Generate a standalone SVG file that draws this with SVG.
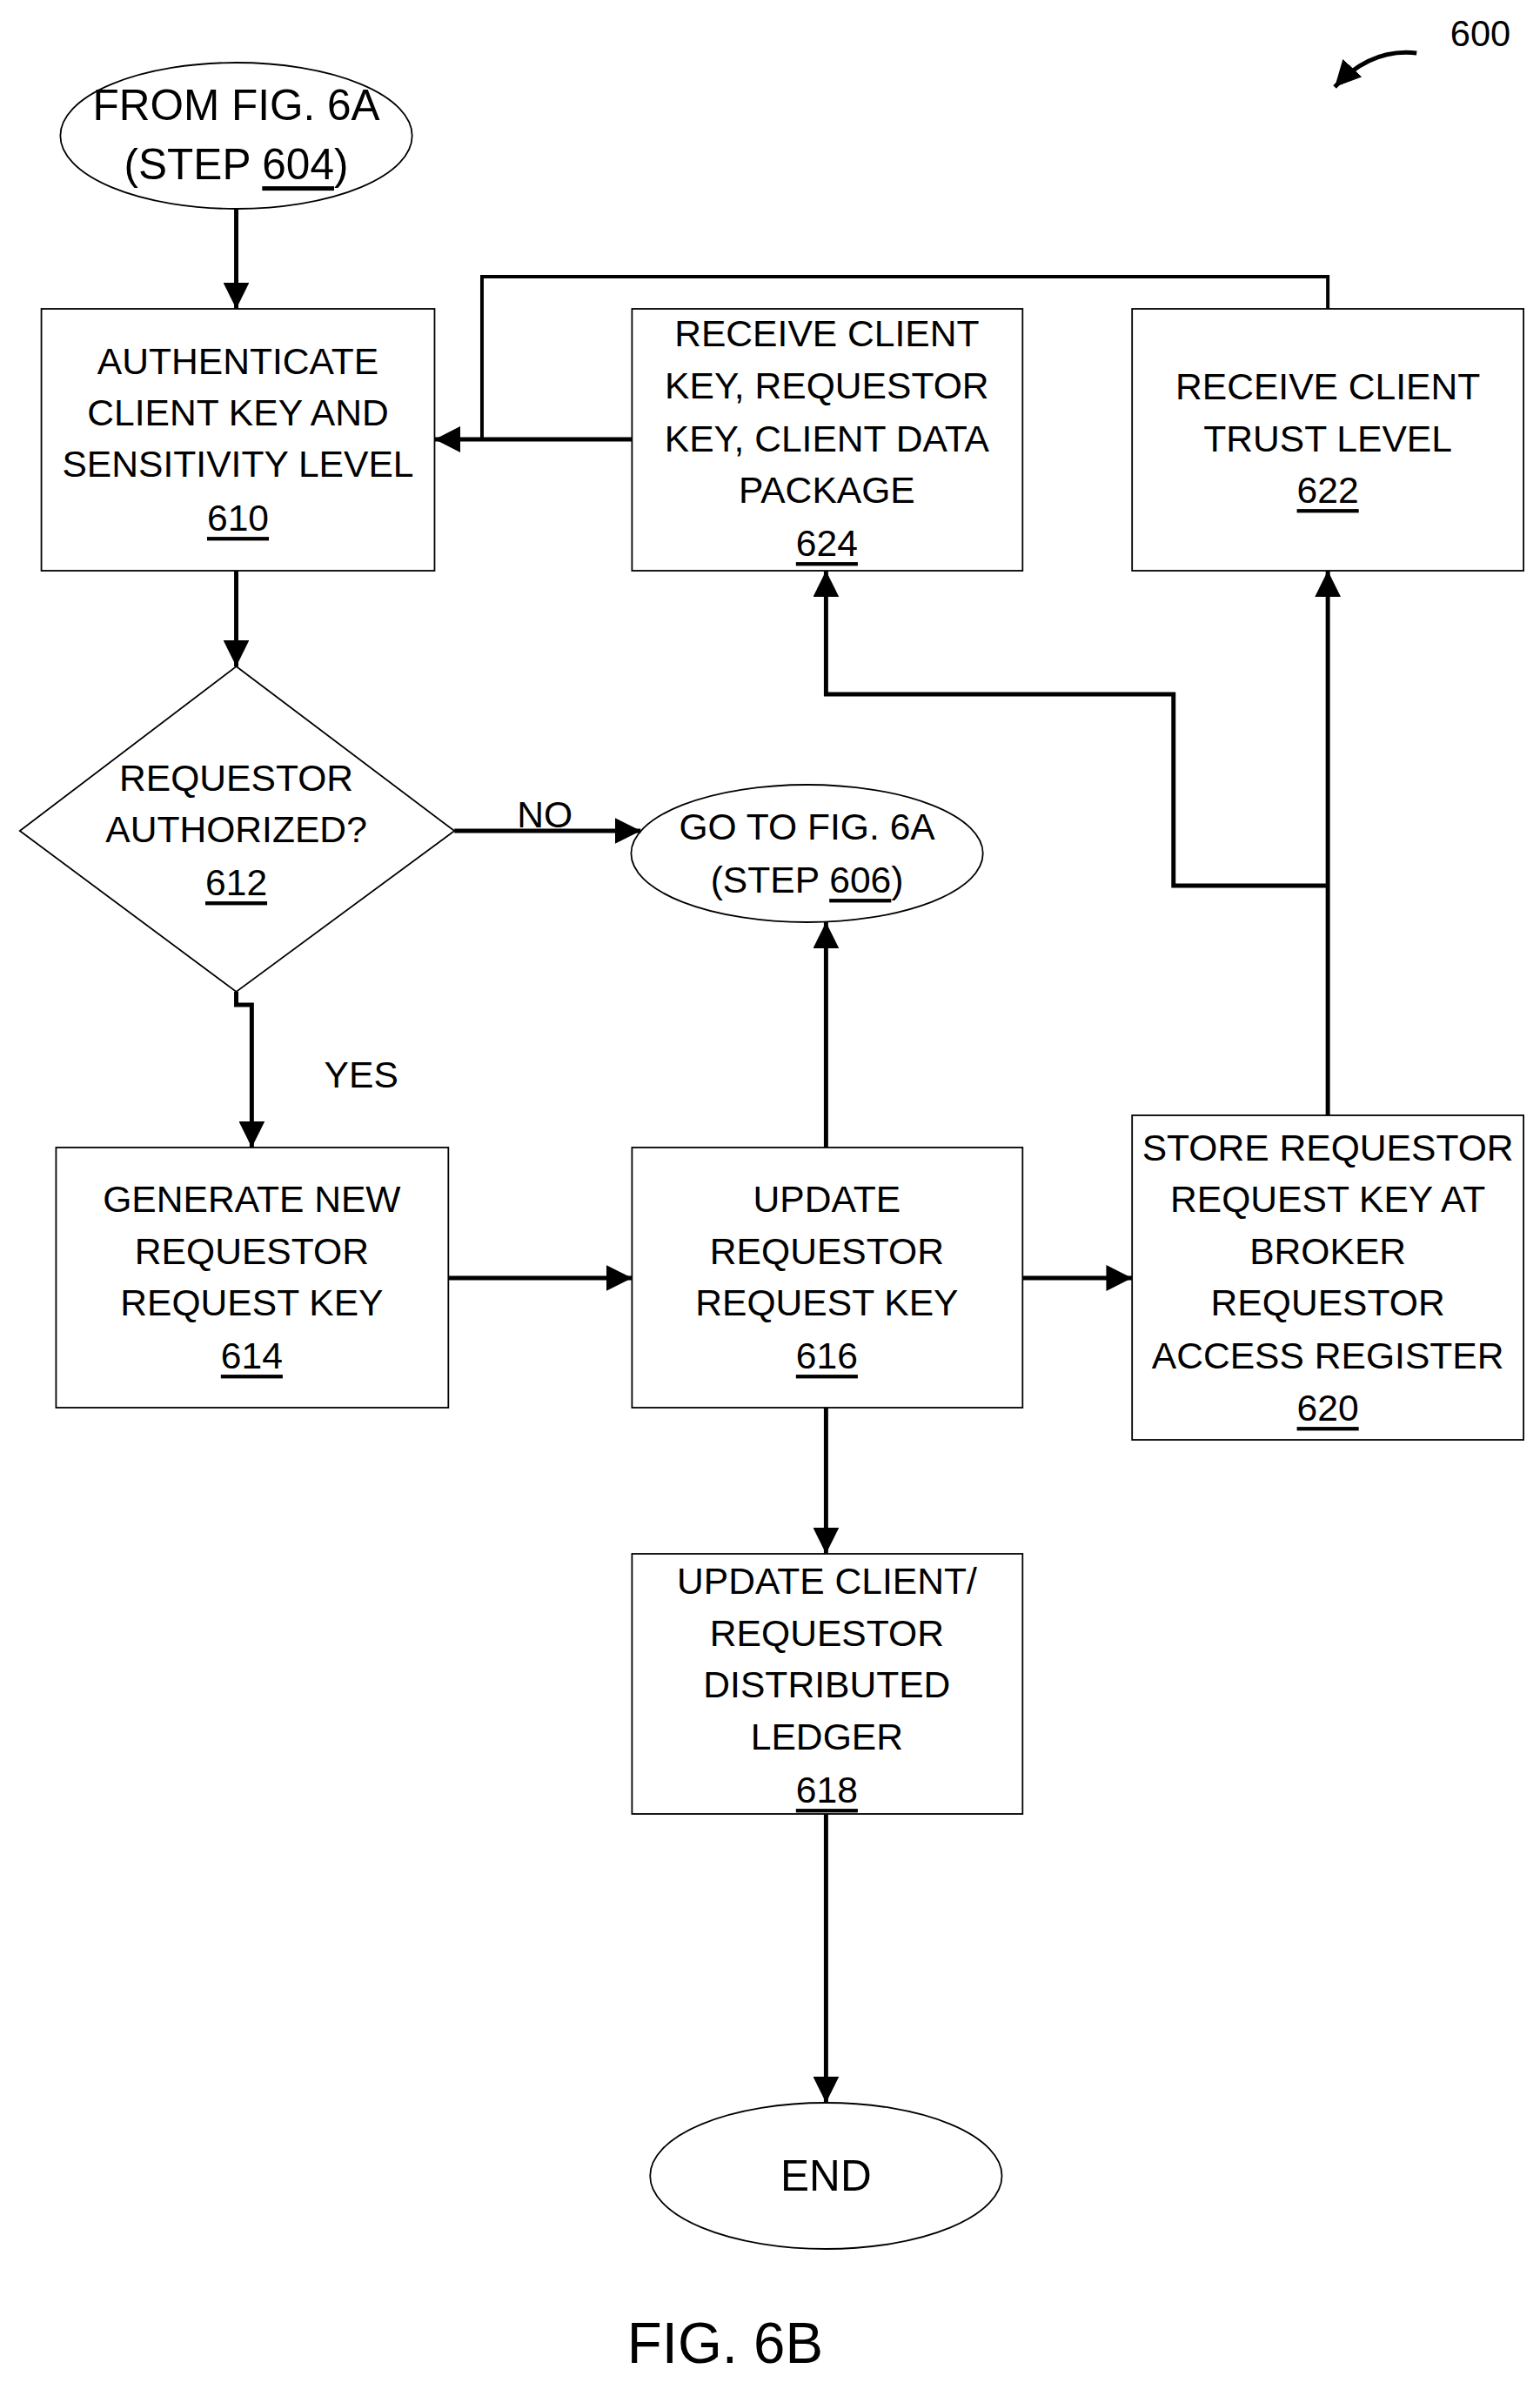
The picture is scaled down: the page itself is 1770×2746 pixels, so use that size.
<svg xmlns="http://www.w3.org/2000/svg" width="1770" height="2746" viewBox="0 0 1770 2746">
<style>
.b{fill:#fff;stroke:#000;stroke-width:1.8}
.t{font-family:"Liberation Sans Narrow","Liberation Sans",sans-serif;font-size:43px;text-anchor:middle;dominant-baseline:central;fill:#000}
.L{font-size:50px}
.u{text-decoration:underline}
.c{fill:none;stroke:#000;stroke-width:5}
</style>
<defs><marker id="a" markerWidth="6" markerHeight="6" refX="6" refY="3" orient="auto" markerUnits="strokeWidth"><path d="M0,0L6,3L0,6z" fill="#000"/></marker></defs>
<rect width="1770" height="2746" fill="#fff"/>
<g transform="scale(0.991,1)">
<g id="n604"><ellipse class="b" cx="274" cy="156" rx="204" ry="84"/><text class="t L" x="274" y="121">FROM FIG. 6A</text><text class="t L" x="274" y="189">(STEP <tspan class="u">604</tspan>)</text></g>
<g id="n610"><rect class="b" x="48" y="355" width="456" height="301"/><text class="t" x="276" y="415">AUTHENTICATE</text><text class="t" x="276" y="474">CLIENT KEY AND</text><text class="t" x="276" y="533">SENSITIVITY LEVEL</text><text class="t u" x="276" y="595">610</text></g>
<g id="n624"><rect class="b" x="733" y="355" width="453" height="301"/><text class="t" x="959" y="383">RECEIVE CLIENT</text><text class="t" x="959" y="443">KEY, REQUESTOR</text><text class="t" x="959" y="504">KEY, CLIENT DATA</text><text class="t" x="959" y="563">PACKAGE</text><text class="t u" x="959" y="624">624</text></g>
<g id="n622"><rect class="b" x="1313" y="355" width="454" height="301"/><text class="t" x="1540" y="444">RECEIVE CLIENT</text><text class="t" x="1540" y="504">TRUST LEVEL</text><text class="t u" x="1540" y="563">622</text></g>
<g id="n612"><path class="b" d="M274,766L527,955L274,1140L23,955z"/><text class="t" x="274" y="894">REQUESTOR</text><text class="t" x="274" y="953">AUTHORIZED?</text><text class="t u" x="274" y="1014">612</text></g>
<g id="n606"><ellipse class="b" cx="936" cy="981" rx="204" ry="79"/><text class="t" x="936" y="950">GO TO FIG. 6A</text><text class="t" x="936" y="1011">(STEP <tspan class="u">606</tspan>)</text></g>
<g id="n614"><rect class="b" x="65" y="1319" width="455" height="299"/><text class="t" x="292" y="1378">GENERATE NEW</text><text class="t" x="292" y="1438">REQUESTOR</text><text class="t" x="292" y="1497">REQUEST KEY</text><text class="t u" x="292" y="1558">614</text></g>
<g id="n616"><rect class="b" x="733" y="1319" width="453" height="299"/><text class="t" x="959" y="1378">UPDATE</text><text class="t" x="959" y="1438">REQUESTOR</text><text class="t" x="959" y="1497">REQUEST KEY</text><text class="t u" x="959" y="1558">616</text></g>
<g id="n620"><rect class="b" x="1313" y="1282" width="454" height="373"/><text class="t" x="1540" y="1319">STORE REQUESTOR</text><text class="t" x="1540" y="1378">REQUEST KEY AT</text><text class="t" x="1540" y="1438">BROKER</text><text class="t" x="1540" y="1497">REQUESTOR</text><text class="t" x="1540" y="1558">ACCESS REGISTER</text><text class="t u" x="1540" y="1618">620</text></g>
<g id="n618"><rect class="b" x="733" y="1786" width="453" height="299"/><text class="t" x="959" y="1817">UPDATE CLIENT/</text><text class="t" x="959" y="1877">REQUESTOR</text><text class="t" x="959" y="1936">DISTRIBUTED</text><text class="t" x="959" y="1996">LEDGER</text><text class="t u" x="959" y="2057">618</text></g>
<g id="nEnd"><ellipse class="b" cx="958" cy="2501" rx="204" ry="84"/><text class="t L" x="958" y="2501">END</text></g>
<g id="connectors">
<path class="c" marker-end="url(#a)" d="M274,240V355"/>
<path class="c" marker-end="url(#a)" d="M274,656V766"/>
<path class="c" marker-end="url(#a)" d="M733,505H504"/>
<path class="c" style="stroke-width:4" d="M1540,355V318H559V505"/>
<path class="c" marker-end="url(#a)" d="M527,955H743"/>
<path class="c" marker-end="url(#a)" d="M274,1140V1155H292V1319"/>
<path class="c" marker-end="url(#a)" d="M520,1469H733"/>
<path class="c" marker-end="url(#a)" d="M1186,1469H1313"/>
<path class="c" marker-end="url(#a)" d="M958,1319V1060"/>
<path class="c" marker-end="url(#a)" d="M1540,1282V656"/>
<path class="c" marker-end="url(#a)" d="M1540,1018H1361V798H958V656"/>
<path class="c" marker-end="url(#a)" d="M958,1618V1786"/>
<path class="c" marker-end="url(#a)" d="M958,2085V2417"/>
<path class="c" marker-end="url(#a)" d="M1643,61Q1590,55 1548,100"/>
</g>
<text class="t" x="632" y="936">NO</text>
<text class="t" x="419" y="1235">YES</text>
<text class="t" x="1717" y="38" style="font-size:42px">600</text>
<text class="t" x="841" y="2693" style="font-size:66px">FIG. 6B</text>
</g>
</svg>
